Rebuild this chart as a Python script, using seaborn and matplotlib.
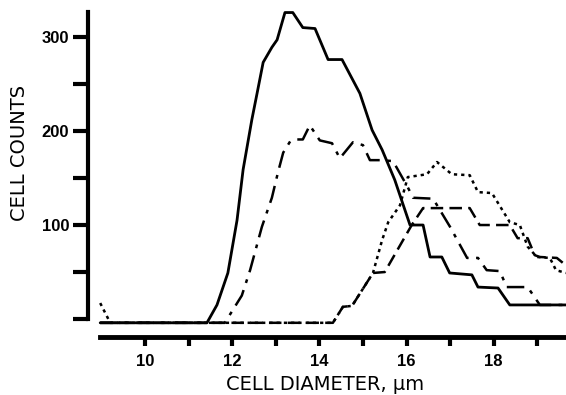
import matplotlib
matplotlib.use('Agg')
import matplotlib.pyplot as plt
import seaborn as sns

# cell diameter (um) / cell count pairs
solid_x = [8.97, 11.42, 11.65, 11.90, 12.11, 12.25, 12.45, 12.57, 12.71, 12.91, 13.03, 13.21, 13.39,
           13.62, 13.90, 14.20, 14.52, 14.93, 15.21, 15.44, 15.73, 16.08, 16.38, 16.54, 16.81, 16.99,
           17.50, 17.64, 18.10, 18.37, 19.66]
solid_y = [-4, -4, 15, 49, 105, 159, 212, 240, 273, 289, 297, 326, 326,
           310, 309, 276, 276, 240, 201, 180, 148, 100, 100, 66, 66, 49,
           47, 34, 33, 15, 15]

dashdot_x = [8.97, 11.83, 12.22, 12.41, 12.68, 12.91, 13.05, 13.17, 13.33, 13.49, 13.62, 13.78, 14.01,
             14.29, 14.47, 14.77, 15.00, 15.16, 15.39, 15.69, 16.03, 16.15, 16.61, 17.00, 17.39, 17.64,
             17.84, 18.14, 18.30, 18.78, 19.06, 19.66]
dashdot_y = [-4, -4, 25, 52, 98, 129, 156, 177, 189, 191, 191, 206, 190,
             187, 171, 188, 185, 169, 169, 168, 140, 129, 128, 98, 65, 65,
             52, 51, 34, 34, 15, 15]

dash_x = [8.97, 14.31, 14.54, 14.75, 15.23, 15.50, 16.12, 16.38, 17.45, 17.68, 18.37, 18.55, 18.78,
          18.94, 19.06, 19.45, 19.66]
dash_y = [-4, -4, 13, 14, 49, 50, 100, 118, 118, 100, 100, 86, 86,
          68, 66, 65, 57]

dot_x = [8.97, 9.20, 14.31, 14.54, 14.75, 15.23, 15.44, 15.58, 15.85, 16.03, 16.47, 16.70, 17.04,
         17.45, 17.64, 17.96, 18.37, 18.60, 18.78, 18.99, 19.29, 19.43, 19.66]
dot_y = [17, -4, -4, 13, 14, 49, 84, 103, 121, 151, 154, 167, 154,
         153, 135, 134, 103, 100, 77, 66, 65, 52, 49]

y_ticks = [0, 50, 100, 150, 200, 250, 300]
y_labels = ['', '', '100', '', '200', '', '300']
x_ticks = [10, 11, 12, 13, 14, 15, 16, 17, 18, 19]
x_labels = ['10', '', '12', '', '14', '', '16', '', '18', '']

sns.set_style('ticks')
plt.rcParams['font.family'] = ['Liberation Sans', 'DejaVu Sans']
plt.rcParams.update({'axes.edgecolor': 'black', 'xtick.color': 'black', 'ytick.color': 'black',
                     'text.color': 'black', 'axes.labelcolor': 'black'})

fig = plt.figure(figsize=(5.66, 3.95), dpi=100)
ax = fig.add_axes([88 / 566, 58 / 395, 478 / 566, 327 / 395])

curves = [
    (solid_x, solid_y, '-', 2.0),
    (dashdot_x, dashdot_y, (0, (7, 3, 1.5, 3)), 1.8),
    (dash_x, dash_y, (0, (5, 2.5)), 1.8),
    (dot_x, dot_y, (0, (1.3, 1.6)), 1.8),
]
for xs, ys, ls, lw in curves:
    sns.lineplot(x=xs, y=ys, ax=ax, color='black', linestyle=ls, lw=lw,
                 sort=False, estimator=None)

ax.set_xlim(8.69, 19.66)
ax.set_ylim(-19.1, 328.7)

for side in ['top', 'right']:
    ax.spines[side].set_visible(False)
ax.spines['left'].set_bounds(0, 327)
ax.spines['bottom'].set_bounds(8.97, 19.66)
ax.spines['left'].set_linewidth(3)
ax.spines['bottom'].set_linewidth(3.5)

ax.set_yticks(y_ticks)
ax.set_yticklabels(y_labels)
ax.set_xticks(x_ticks)
ax.set_xticklabels(x_labels)
ax.tick_params(axis='y', direction='out', length=10.5, width=3, pad=3, labelsize=12)
ax.tick_params(axis='x', direction='out', length=6.5, width=3, pad=6, labelsize=12)
for lab in ax.get_xticklabels() + ax.get_yticklabels():
    lab.set_fontweight('bold')

ax.set_xlabel('CELL DIAMETER, \u03bcm', fontsize=14, family='DejaVu Sans', va='center')
ax.set_ylabel('CELL COUNTS', fontsize=14, family='DejaVu Sans', va='center')
ax.xaxis.set_label_coords(0.496, -0.144)
ax.yaxis.set_label_coords(-0.144, 0.563)

fig.savefig('out.png', dpi=100)
